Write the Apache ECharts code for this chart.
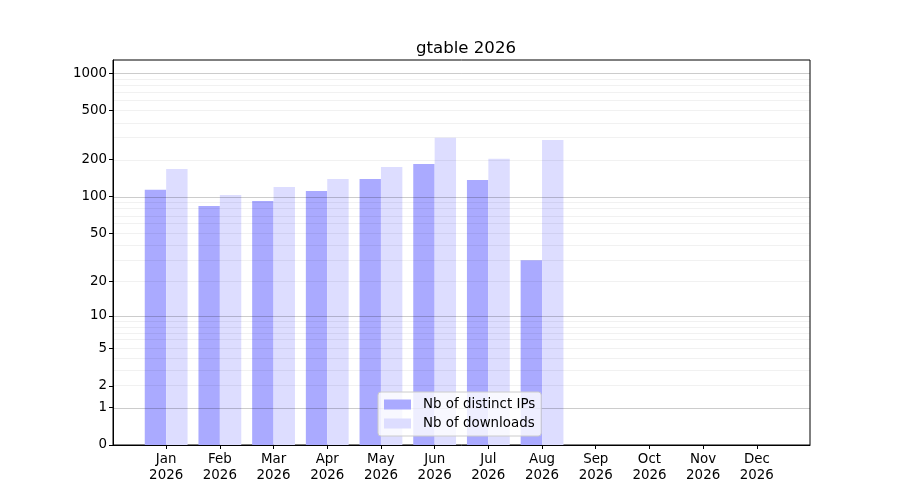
<!DOCTYPE html>
<html>
<head>
<meta charset="utf-8">
<title>gtable 2026</title>
<script src="https://cdn.jsdelivr.net/npm/echarts@6/dist/echarts.min.js"></script>
<style>
    html, body { margin: 0; padding: 0; background: #fff; }
    #chart { width: 900px; height: 500px; }
</style>
</head>
<body>
<div id="chart"></div>
<script>
// Chart data
const months = ['Jan', 'Feb', 'Mar', 'Apr', 'May', 'Jun', 'Jul', 'Aug', 'Sep', 'Oct', 'Nov', 'Dec'];
const year = '2026';
const distinctIps = [114, 84, 92, 111, 139, 184, 137, 30, 0, 0, 0, 0];
const downloads = [168, 103, 120, 139, 174, 301, 203, 289, 0, 0, 0, 0];
const yTickValues = [0, 1, 2, 5, 10, 20, 50, 100, 200, 500, 1000];
const yMajorGrid = [1, 10, 100, 1000];
const yMinorGrid = [2, 3, 4, 5, 6, 7, 8, 9, 20, 30, 40, 50, 60, 70, 80, 90, 200, 300, 400, 500, 600, 700, 800, 900];
const yTop = 1280;

// y axis is log10(v + 1), like the original plot
const tr = v => Math.log10(v + 1);
const untr = t => Math.round(Math.pow(10, t) - 1);

const font = 'DejaVu Sans';

document.addEventListener('DOMContentLoaded', () => {
    const chart = echarts.init(document.getElementById('chart'), null, { renderer: 'canvas' });

    const toPoints = arr => arr.map((v, i) => [i, tr(v)]);
    const gridLine = (v, color) => ({
        yAxis: tr(v),
        lineStyle: { color: color, width: 0.8, type: 'solid' }
    });

    const option = {
        animation: false,
        backgroundColor: '#fff',
        title: {
            text: 'gtable 2026',
            left: 461,
            textAlign: 'center',
            top: 35,
            textStyle: { fontFamily: font, fontSize: 16.6, fontWeight: 'normal', color: '#000' }
        },
        legend: {
            orient: 'vertical',
            left: 378,
            top: 392,
            padding: [6, 6, 6, 6],
            itemWidth: 27,
            itemHeight: 10,
            itemGap: 6,
            icon: 'rect',
            selectedMode: false,
            backgroundColor: 'rgba(255,255,255,0.8)',
            borderColor: '#cccccc',
            borderWidth: 1,
            borderRadius: 3,
            z: 20,
            textStyle: { fontFamily: font, fontSize: 13.4, color: '#000', padding: [0, 0, 0, 7] },
            data: ['Nb of distinct IPs', 'Nb of downloads']
        },
        grid: {
            left: 113, right: 90, top: 60, bottom: 55,
            show: true, borderColor: '#000', borderWidth: 1,
            containLabel: false
        },
        xAxis: {
            type: 'value',
            min: -0.99,
            max: 11.99,
            splitLine: { show: false },
            axisLine: { onZero: false, lineStyle: { color: '#000', width: 1 } },
            axisTick: {
                customValues: months.map((m, i) => i),
                length: 4,
                lineStyle: { color: '#000' }
            },
            axisLabel: {
                customValues: months.map((m, i) => i),
                formatter: v => months[Math.round(v)] + '\n' + year,
                fontFamily: font,
                fontSize: 13.4,
                lineHeight: 16,
                color: '#000',
                margin: 7
            }
        },
        yAxis: {
            type: 'value',
            min: 0,
            max: tr(yTop),
            splitLine: { show: false },
            axisLine: { show: true, onZero: false, lineStyle: { color: '#000', width: 1 } },
            axisTick: {
                customValues: yTickValues.map(tr),
                length: 4,
                lineStyle: { color: '#000' }
            },
            axisLabel: {
                customValues: yTickValues.map(tr),
                formatter: v => String(untr(v)),
                fontFamily: font,
                fontSize: 13.4,
                color: '#000',
                margin: 6
            }
        },
        series: [
            {
                name: 'Nb of distinct IPs',
                type: 'bar',
                barWidth: 21.4,
                barGap: '0%',
                itemStyle: { color: '#aaaaff' },
                data: toPoints(distinctIps)
            },
            {
                name: 'Nb of downloads',
                type: 'bar',
                barWidth: 21.4,
                barGap: '0%',
                itemStyle: { color: '#ddddff' },
                data: toPoints(downloads)
            },
            {
                // gridlines drawn over the bars
                name: 'grid',
                type: 'line',
                data: [],
                z: 5,
                silent: true,
                markLine: {
                    silent: true,
                    symbol: 'none',
                    label: { show: false },
                    animation: false,
                    data: [
                        ...yMinorGrid.map(v => gridLine(v, 'rgba(0,0,0,0.07)')),
                        ...yMajorGrid.map(v => gridLine(v, 'rgba(0,0,0,0.25)'))
                    ]
                }
            }
        ]
    };

    chart.setOption(option);
});
</script>
</body>
</html>
